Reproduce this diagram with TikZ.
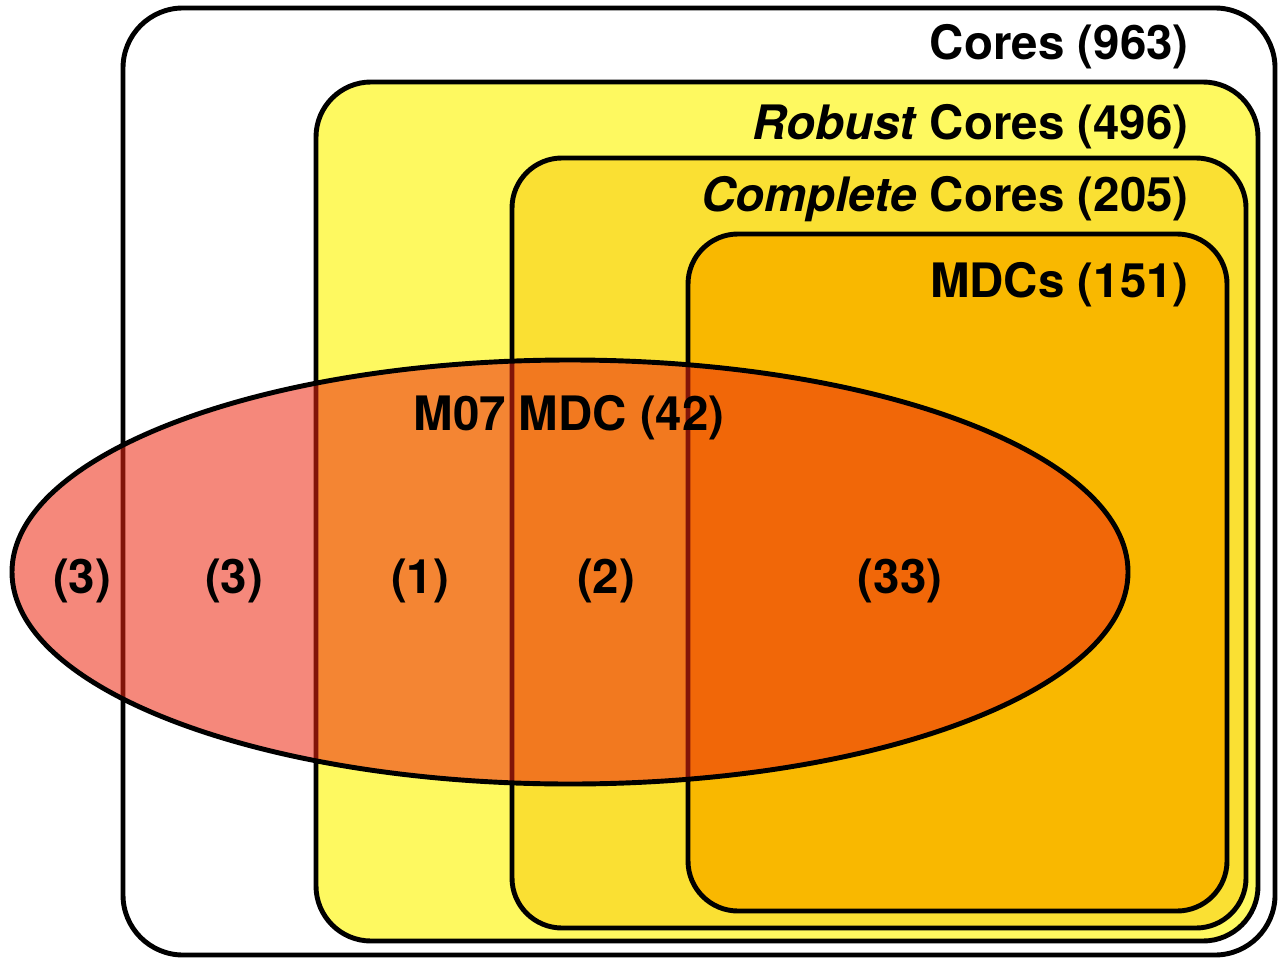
\documentclass[tikz,border=0pt]{standalone}
\usepackage{fontspec}
\setmainfont{TeX Gyre Heros}
\usepackage{xcolor}
\usepackage{tikz}
\definecolor{robustyellow}{RGB}{254,249,96}
\definecolor{completeyellow}{RGB}{250,224,51}
\definecolor{mdcorange}{RGB}{249,184,0}
\definecolor{mzeroseven}{RGB}{236,38,15}

\begin{document}
\begin{tikzpicture}[line width = 1.4pt, every node/.style = {inner sep = 0pt, font = \fontsize{13.5}{16}\selectfont\bfseries}]
		\def\coresrect{(1.23,0.03) rectangle (12.75,9.50)};
		\def\robustrect{(3.16,0.17) rectangle (12.58,8.76)};
		\def\completerect{(5.12,0.30) rectangle (12.46,8.00)};
		\def\mdcrect{(6.88,0.47) rectangle (12.27,7.24)};
		\def\mzerosevenellipse{(5.70,3.86) ellipse [x radius = 5.58, y radius = 2.12]};
		
		\useasboundingbox (0,0) rectangle (12.83,9.58);
		
		\begin{scope}
			\draw [rounded corners = 0.6cm] \coresrect;
			\filldraw [fill = robustyellow, rounded corners = 0.55cm] \robustrect;
			\filldraw [fill = completeyellow, rounded corners = 0.5cm] \completerect;
			\filldraw [fill = mdcorange, rounded corners = 0.5cm] \mdcrect;
		\end{scope}
		
		\begin{scope}
			\fill [mzeroseven, opacity = 0.55] \mzerosevenellipse;
			\draw \mzerosevenellipse;
		\end{scope}
		
		\begin{scope}
			\node [anchor = base east] (cores) at (11.91,8.98) {Cores (963)};
			\node [anchor = base east] (robust) at (11.91,8.18) {\textit{Robust} Cores (496)};
			\node [anchor = base east] (complete) at (11.91,7.46) {\textit{Complete} Cores (205)};
			\node [anchor = base east] (mdcs) at (11.91,6.61) {MDCs (151)};
			\node [anchor = base] (mzeroseven) at (5.69,5.28) {M07 MDC (42)};
		\end{scope}
		
		\begin{scope}
			\node [anchor = base] (onlyellipse) at (0.82,3.65) {(3)};
			\node [anchor = base] (incores) at (2.34,3.65) {(3)};
			\node [anchor = base] (inrobust) at (4.20,3.65) {(1)};
			\node [anchor = base] (incomplete) at (6.06,3.65) {(2)};
			\node [anchor = base] (inmdcs) at (9.00,3.65) {(33)};
		\end{scope}
	\end{tikzpicture}
\end{document}
